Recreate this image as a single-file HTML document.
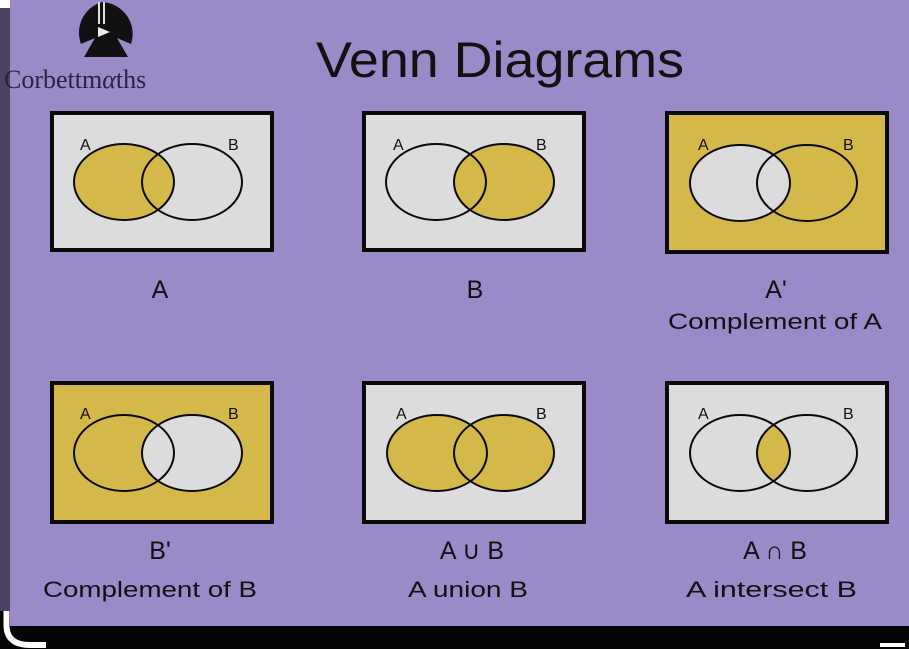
<!DOCTYPE html>
<html><head><meta charset="utf-8"><style>
html,body{margin:0;padding:0;width:909px;height:649px;overflow:hidden;background:#050505}
</style></head><body>
<svg width="909" height="649" viewBox="0 0 909 649" xmlns="http://www.w3.org/2000/svg" font-family="Liberation Sans, sans-serif">
<rect x="0" y="0" width="909" height="649" fill="#050505"/>
<rect x="10" y="0" width="899" height="626" fill="#9a8bc8"/>
<rect x="0" y="0" width="10" height="611" fill="#4a4262"/>
<rect x="0" y="0" width="10" height="8" fill="#fff"/>
<path d="M6.5 611 V625 Q6.5 645 30 645 H46" fill="none" stroke="#fff" stroke-width="6"/>
<path d="M880 645 H905" stroke="#fff" stroke-width="4" fill="none"/>
<path d="M102 2 A32 32 0 0 1 131 44 L117 38 L128 57 H84 L95 38 L81 44 A32 32 0 0 1 102 2 Z" fill="#111"/>
<rect x="98" y="2" width="2" height="22" fill="#ddd"/><rect x="103" y="2" width="2" height="22" fill="#ddd"/>
<path d="M98 27 L110 32 L98 37 Z" fill="#eee"/>
<text x="4" y="88" font-family="Liberation Serif, serif" font-size="26" fill="#2a2440">Corbettm<tspan font-style="italic">α</tspan>ths</text>
<text x="316" y="77" font-size="50" fill="#111" textLength="368" lengthAdjust="spacingAndGlyphs">Venn Diagrams</text>

<g stroke="#0a0a0a">
<rect x="52" y="113" width="220" height="137" fill="#dcdcdc" stroke-width="4"/>
<ellipse cx="124" cy="182" rx="50" ry="38" fill="#d4b84a" stroke="none"/>
<ellipse cx="124" cy="182" rx="50" ry="38" fill="none" stroke-width="2"/>
<ellipse cx="192" cy="182" rx="50" ry="38" fill="none" stroke-width="2"/>
<rect x="364" y="113" width="220" height="137" fill="#dcdcdc" stroke-width="4"/>
<ellipse cx="504" cy="182" rx="50" ry="38" fill="#d4b84a" stroke="none"/>
<ellipse cx="436" cy="182" rx="50" ry="38" fill="none" stroke-width="2"/>
<ellipse cx="504" cy="182" rx="50" ry="38" fill="none" stroke-width="2"/>
<rect x="667" y="113" width="220" height="139" fill="#d4b84a" stroke-width="4"/>
<ellipse cx="740" cy="183" rx="50" ry="38" fill="#dcdcdc" stroke="none"/>
<ellipse cx="740" cy="183" rx="50" ry="38" fill="none" stroke-width="2"/>
<ellipse cx="807" cy="183" rx="50" ry="38" fill="none" stroke-width="2"/>
<rect x="52" y="383" width="220" height="139" fill="#d4b84a" stroke-width="4"/>
<ellipse cx="192" cy="453" rx="50" ry="38" fill="#dcdcdc" stroke="none"/>
<ellipse cx="124" cy="453" rx="50" ry="38" fill="none" stroke-width="2"/>
<ellipse cx="192" cy="453" rx="50" ry="38" fill="none" stroke-width="2"/>
<rect x="364" y="383" width="220" height="139" fill="#dcdcdc" stroke-width="4"/>
<ellipse cx="437" cy="453" rx="50" ry="38" fill="#d4b84a" stroke="none"/>
<ellipse cx="504" cy="453" rx="50" ry="38" fill="#d4b84a" stroke="none"/>
<ellipse cx="437" cy="453" rx="50" ry="38" fill="none" stroke-width="2"/>
<ellipse cx="504" cy="453" rx="50" ry="38" fill="none" stroke-width="2"/>
<rect x="667" y="383" width="220" height="139" fill="#dcdcdc" stroke-width="4"/>
<clipPath id="cI"><ellipse cx="740" cy="453" rx="50" ry="38"/></clipPath>
<ellipse cx="807" cy="453" rx="50" ry="38" fill="#d4b84a" stroke="none" clip-path="url(#cI)"/>
<ellipse cx="740" cy="453" rx="50" ry="38" fill="none" stroke-width="2"/>
<ellipse cx="807" cy="453" rx="50" ry="38" fill="none" stroke-width="2"/>
</g>
<g font-size="16" fill="#111">
<text x="80" y="150">A</text><text x="228" y="150">B</text>
<text x="393" y="150">A</text><text x="536" y="150">B</text>
<text x="698" y="150">A</text><text x="843" y="150">B</text>
<text x="80" y="419">A</text><text x="228" y="419">B</text>
<text x="396" y="419">A</text><text x="536" y="419">B</text>
<text x="698" y="419">A</text><text x="843" y="419">B</text>
</g>
<g font-size="25" fill="#111" text-anchor="middle">
<text x="160" y="298">A</text>
<text x="475" y="298">B</text>
<text x="776" y="298">A'</text>
<text x="160" y="559">B'</text>
<text x="472" y="559">A ∪ B</text>
<text x="775" y="559">A ∩ B</text>
</g>
<g font-size="22" fill="#111">
<text x="668" y="329" textLength="214" lengthAdjust="spacingAndGlyphs">Complement of A</text>
<text x="43" y="597" textLength="214" lengthAdjust="spacingAndGlyphs">Complement of B</text>
<text x="408" y="597" textLength="120" lengthAdjust="spacingAndGlyphs">A union B</text>
<text x="686" y="597" textLength="171" lengthAdjust="spacingAndGlyphs">A intersect B</text>
</g>
</svg>
</body></html>
